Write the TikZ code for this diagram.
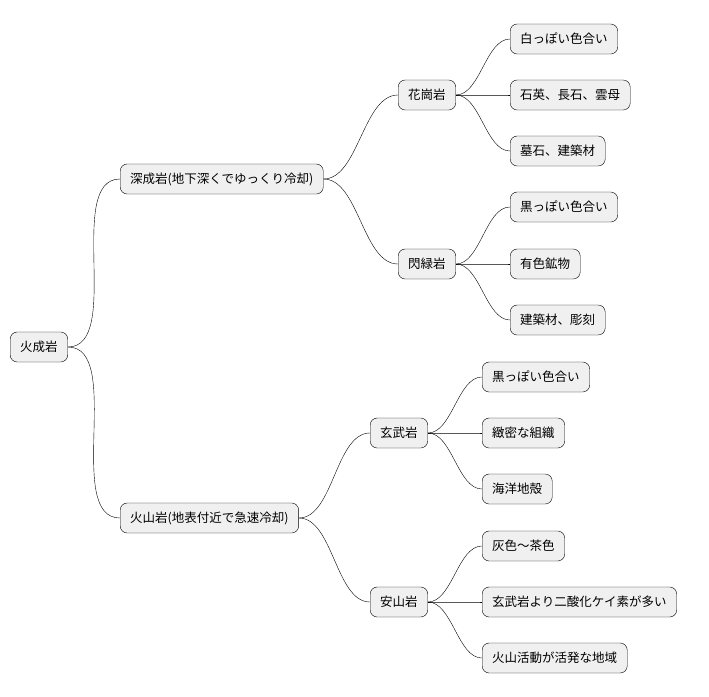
\documentclass[tikz,border=0pt]{standalone}
\usepackage{fontspec}
\setmainfont{Noto Sans CJK JP}
\tikzset{
  topic/.style={draw, fill=black!6, rounded corners=7pt, minimum height=30pt,
    inner xsep=10pt, anchor=west, font=\fontsize{12.5}{15}\selectfont},
  link/.style={out=0, in=180, looseness=0.8}
}
\begin{document}
\begin{tikzpicture}[x=1pt, y=-1pt]
\useasboundingbox (0,0) rectangle (709,696);
\node (root)[topic] at (10, 347) {火成岩};
\node (deep)[topic] at (120, 179) {深成岩(地下深くでゆっくり冷却)};
\node (volc)[topic] at (120, 518) {火山岩(地表付近で急速冷却)};
\node (gran)[topic] at (398, 95) {花崗岩};
\node (dior)[topic] at (398, 264) {閃緑岩};
\node (basa)[topic] at (370, 433) {玄武岩};
\node (ande)[topic] at (370, 602) {安山岩};
\node (g1)[topic] at (510, 39) {白っぽい色合い};
\node (g2)[topic] at (510, 95) {石英、長石、雲母};
\node (g3)[topic] at (510, 151) {墓石、建築材};
\node (d1)[topic] at (510, 207) {黒っぽい色合い};
\node (d2)[topic] at (510, 264) {有色鉱物};
\node (d3)[topic] at (510, 320) {建築材、彫刻};
\node (b1)[topic] at (482, 377) {黒っぽい色合い};
\node (b2)[topic] at (482, 433) {緻密な組織};
\node (b3)[topic] at (482, 489) {海洋地殻};
\node (a1)[topic] at (482, 546) {灰色～茶色};
\node (a2)[topic] at (482, 602) {玄武岩より二酸化ケイ素が多い};
\node (a3)[topic] at (482, 658) {火山活動が活発な地域};
\draw (root.east) to[link] (deep.west);
\draw (root.east) to[link] (volc.west);
\draw (deep.east) to[link] (gran.west);
\draw (deep.east) to[link] (dior.west);
\draw (volc.east) to[link] (basa.west);
\draw (volc.east) to[link] (ande.west);
\foreach \p/\c in {gran/g1, gran/g2, gran/g3, dior/d1, dior/d2, dior/d3,
    basa/b1, basa/b2, basa/b3, ande/a1, ande/a2, ande/a3}
  \draw (\p.east) to[link] (\c.west);
\end{tikzpicture}
\end{document}
